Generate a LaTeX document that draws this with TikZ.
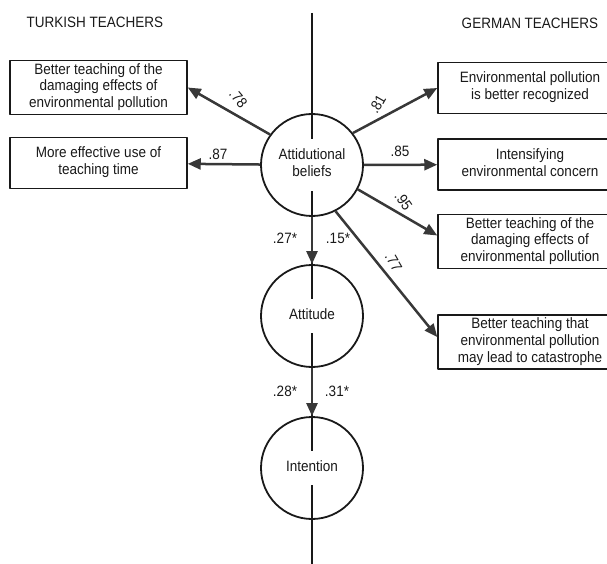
\documentclass[tikz,border=0pt]{standalone}
\usepackage{fontspec}
\setmainfont{Liberation Sans}
\usepackage{graphicx}
\usepackage{tikz}
\usetikzlibrary{calc}
\usetikzlibrary{arrows.meta}
\definecolor{arrgray}{rgb}{0.22,0.22,0.22}
\definecolor{inkgray}{rgb}{0.1,0.1,0.1}
% narrow set text, lines split by \\
\newcommand{\cond}[1]{\scalebox{0.9}[1]{\begin{tabular}{@{}c@{}}#1\end{tabular}}}
\tikzstyle{every node}=[font=\fontsize{15}{16.8}\selectfont, text=inkgray]
\tikzstyle{box}=[draw=inkgray, line width=1.5pt, inner sep=2pt, minimum height=51pt]
\tikzstyle{lbox}=[box, minimum width=177pt]
\tikzstyle{rbox}=[box, minimum width=184pt]
\tikzstyle{ring}=[draw=inkgray, circle, line width=1.8pt, minimum size=102pt, inner sep=0pt]
\tikzstyle{ringtext}=[fill=white, inner xsep=1pt, inner ysep=9pt]
\tikzstyle{link}=[->, line width=2.5pt, color=arrgray]
\tikzstyle{coef}=[inner sep=1pt]

\begin{document}
\begin{tikzpicture}[line join=round,>={Triangle[length=13pt,width=11pt]},x=1pt,y=-1pt]
    \useasboundingbox (0,0) rectangle (607,564);
    \clip (0,0) rectangle (607,564);
    % dividing line between the two groups
    \coordinate (divtop) at (312,13);
    \coordinate (divbot) at (312,566);
    \draw [line width=1.2pt, color=inkgray] (divtop) -- (divbot);

    \node (turkish) at (95,24) {\cond{TURKISH TEACHERS}};
    \node (german) at (530,25) {\cond{GERMAN TEACHERS}};

    % latent variables
    \node [ring] (beliefs) at (312,165) {};
    \node [ringtext] (beliefs-txt) at (beliefs) {\cond{Attidutional\\beliefs}};
    \node [ring] (attitude) at (312,316) {};
    \node [ringtext] (attitude-txt) at (attitude) {\cond{Attitude}};
    \node [ring] (intention) at (312,468) {};
    \node [ringtext] (intention-txt) at (intention) {\cond{Intention}};

    % indicators
    \node [lbox] (tr1) at (98.5,87.5) {\cond{Better teaching of the\\damaging effects of\\environmental pollution}};
    \node [lbox] (tr2) at (98.5,163) {\cond{More effective use of\\teaching time}};
    \node [rbox] (de1) at (530,88) {\cond{Environmental pollution\\is better recognized}};
    \node [rbox] (de2) at (530,164.5) {\cond{Intensifying\\environmental concern}};
    \node [rbox] (de3) at (530,241.5) {\cond{Better teaching of the\\damaging effects of\\environmental pollution}};
    \node [rbox] (de4) at (530,342) {\cond{Better teaching that\\environmental pollution\\may lead to catastrophe}};

    \draw [link] (beliefs.144) -- (tr1.east);
    \draw [link] (beliefs) -- (tr2);
    \draw [link] (beliefs.38) -- (de1.west);
    \draw [link] (beliefs) -- (de2);
    \draw [link] (beliefs.-28) -- ([yshift=6pt]de3.west);
    \draw [link] (beliefs.-63) -- ([yshift=5pt]de4.west);
    \draw [link] (beliefs.south) -- (attitude.north);
    \draw [link] (attitude.south) -- (intention.north);

    % loadings and path coefficients
    \node [coef, rotate=-50] (c78) at (237,100) {\cond{.78}};
    \node [coef] (c87) at (218,156) {\cond{.87}};
    \node [coef, rotate=60] (c81) at (379,105) {\cond{.81}};
    \node [coef] (c85) at (400,153) {\cond{.85}};
    \node [coef, rotate=-55] (c95) at (402,202) {\cond{.95}};
    \node [coef, rotate=-60] (c77) at (392,263) {\cond{.77}};
    \node [coef] (c27) at (285,240) {\cond{.27*}};
    \node [coef] (c15) at (338,240) {\cond{.15*}};
    \node [coef] (c28) at (285,393) {\cond{.28*}};
    \node [coef] (c31) at (337,393) {\cond{.31*}};
\end{tikzpicture}
\end{document}
